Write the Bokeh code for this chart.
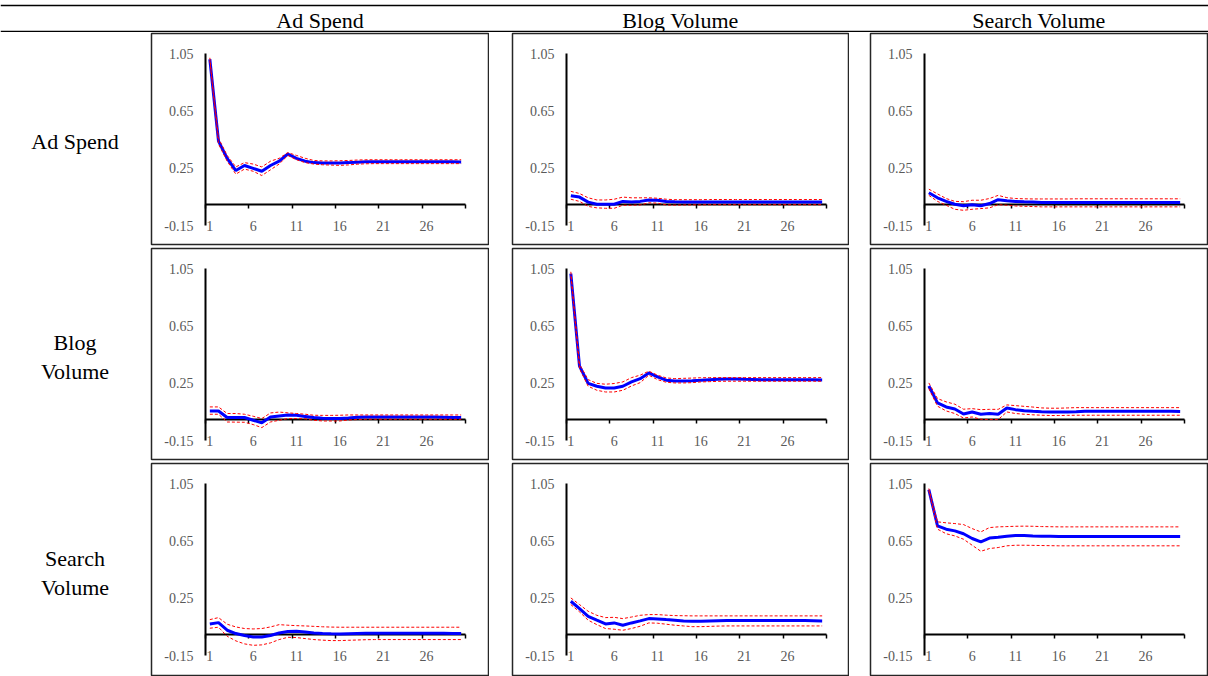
from bokeh.plotting import figure
from bokeh.models import (ColumnDataSource, LinearAxis, FixedTicker,
                          NumeralTickFormatter, Range1d, Span)
from bokeh.layouts import column, row
from bokeh.embed import file_html
from bokeh.resources import INLINE
from bokeh.core.properties import value

# ---------------- data ----------------
VARIABLES = ["Ad Spend", "Blog Volume", "Search Volume"]
ROW_LABELS = ["Ad Spend", "Blog\nVolume", "Search\nVolume"]
PERIODS = [1, 2, 3, 4, 5, 6, 7, 8, 9, 10,
           11, 12, 13, 14, 15, 16, 17, 18, 19, 20,
           21, 22, 23, 24, 25, 26, 27, 28, 29, 30]
Y_TICKS = [-0.15, 0.25, 0.65, 1.05]
X_TICKS = [1, 6, 11, 16, 21, 26]
X_TICK_MARKS = [0.5, 5.5, 10.5, 15.5, 20.5, 25.5, 30.5]

ad_ad_mean = [1.010, 0.440, 0.320, 0.235, 0.270, 0.250, 0.230, 0.270, 0.300, 0.350,
              0.320, 0.300, 0.290, 0.288, 0.288, 0.288, 0.290, 0.293, 0.296, 0.296,
              0.296, 0.296, 0.296, 0.296, 0.296, 0.296, 0.296, 0.296, 0.296, 0.295]
ad_ad_lo = [1.000, 0.420, 0.300, 0.210, 0.245, 0.230, 0.200, 0.240, 0.280, 0.340,
            0.310, 0.290, 0.280, 0.275, 0.273, 0.271, 0.274, 0.279, 0.282, 0.283,
            0.283, 0.283, 0.283, 0.283, 0.283, 0.283, 0.283, 0.283, 0.283, 0.283]
ad_ad_hi = [1.020, 0.460, 0.340, 0.260, 0.290, 0.280, 0.260, 0.300, 0.320, 0.360,
            0.340, 0.320, 0.305, 0.302, 0.302, 0.303, 0.305, 0.308, 0.310, 0.310,
            0.310, 0.310, 0.310, 0.310, 0.310, 0.310, 0.310, 0.310, 0.310, 0.310]

ad_blog_mean = [0.060, 0.050, 0.015, 0.000, 0.000, 0.000, 0.020, 0.015, 0.020, 0.030,
                0.028, 0.020, 0.017, 0.015, 0.015, 0.015, 0.016, 0.016, 0.016, 0.016,
                0.016, 0.016, 0.016, 0.016, 0.016, 0.016, 0.016, 0.016, 0.016, 0.016]
ad_blog_lo = [0.035, 0.020, -0.015, -0.025, -0.028, -0.028, -0.007, -0.007, -0.005, 0.010,
              0.008, -0.005, -0.006, -0.005, -0.004, -0.004, -0.003, -0.003, -0.003, -0.003,
              -0.003, -0.003, -0.003, -0.003, -0.003, -0.003, -0.003, -0.003, -0.003, -0.003]
ad_blog_hi = [0.090, 0.075, 0.045, 0.030, 0.030, 0.035, 0.050, 0.045, 0.045, 0.045,
              0.042, 0.035, 0.032, 0.032, 0.032, 0.032, 0.033, 0.033, 0.033, 0.033,
              0.033, 0.033, 0.033, 0.033, 0.033, 0.033, 0.033, 0.033, 0.033, 0.033]

ad_search_mean = [0.080, 0.045, 0.020, 0.000, -0.010, -0.003, -0.010, 0.005, 0.032, 0.025,
                  0.020, 0.017, 0.015, 0.013, 0.012, 0.012, 0.012, 0.012, 0.012, 0.012,
                  0.012, 0.012, 0.012, 0.012, 0.012, 0.012, 0.012, 0.012, 0.012, 0.012]
ad_search_lo = [0.062, 0.020, -0.007, -0.035, -0.042, -0.035, -0.030, -0.025, -0.003, -0.007,
                -0.012, -0.014, -0.016, -0.018, -0.018, -0.018, -0.018, -0.018, -0.018, -0.018,
                -0.018, -0.018, -0.018, -0.018, -0.018, -0.018, -0.018, -0.018, -0.018, -0.018]
ad_search_hi = [0.105, 0.072, 0.040, 0.020, 0.018, 0.028, 0.028, 0.040, 0.062, 0.046,
                0.040, 0.038, 0.037, 0.037, 0.037, 0.037, 0.037, 0.038, 0.038, 0.038,
                0.038, 0.038, 0.038, 0.038, 0.038, 0.038, 0.038, 0.038, 0.038, 0.038]

blog_ad_mean = [0.058, 0.058, 0.012, 0.012, 0.012, -0.007, -0.025, 0.016, 0.023, 0.030,
                0.028, 0.020, 0.012, 0.007, 0.005, 0.005, 0.009, 0.014, 0.016, 0.016,
                0.016, 0.016, 0.016, 0.016, 0.016, 0.016, 0.015, 0.014, 0.013, 0.012]
blog_ad_lo = [0.035, 0.035, -0.019, -0.020, -0.021, -0.037, -0.058, -0.019, -0.007, 0.005,
              0.005, 0.003, -0.007, -0.012, -0.012, -0.012, -0.005, -0.002, 0.000, 0.000,
              0.000, 0.000, 0.000, 0.000, 0.000, 0.000, 0.000, 0.000, 0.000, 0.000]
blog_ad_hi = [0.086, 0.086, 0.040, 0.040, 0.035, 0.021, 0.005, 0.044, 0.050, 0.045,
              0.040, 0.035, 0.028, 0.027, 0.027, 0.028, 0.030, 0.030, 0.030, 0.030,
              0.030, 0.030, 0.030, 0.030, 0.030, 0.030, 0.030, 0.030, 0.030, 0.030]

blog_blog_mean = [1.015, 0.370, 0.250, 0.230, 0.218, 0.218, 0.230, 0.260, 0.283, 0.323,
                  0.295, 0.272, 0.267, 0.267, 0.269, 0.272, 0.276, 0.279, 0.281, 0.280,
                  0.278, 0.277, 0.276, 0.276, 0.276, 0.276, 0.276, 0.276, 0.275, 0.274]
blog_blog_lo = [1.000, 0.353, 0.230, 0.202, 0.190, 0.190, 0.202, 0.232, 0.255, 0.307,
                0.276, 0.258, 0.253, 0.253, 0.255, 0.260, 0.262, 0.264, 0.265, 0.265,
                0.265, 0.265, 0.265, 0.265, 0.265, 0.265, 0.265, 0.265, 0.265, 0.265]
blog_blog_hi = [1.027, 0.383, 0.276, 0.250, 0.244, 0.249, 0.260, 0.290, 0.307, 0.335,
                0.307, 0.288, 0.283, 0.285, 0.287, 0.289, 0.290, 0.290, 0.290, 0.290,
                0.290, 0.290, 0.290, 0.290, 0.290, 0.290, 0.290, 0.290, 0.290, 0.290]

blog_search_mean = [0.232, 0.114, 0.086, 0.072, 0.037, 0.051, 0.035, 0.040, 0.035, 0.079,
                    0.067, 0.060, 0.056, 0.053, 0.051, 0.051, 0.051, 0.053, 0.056, 0.056,
                    0.056, 0.056, 0.056, 0.056, 0.056, 0.056, 0.056, 0.056, 0.055, 0.054]
blog_search_lo = [0.214, 0.091, 0.058, 0.040, 0.009, 0.016, 0.000, -0.002, -0.002, 0.051,
                  0.040, 0.035, 0.031, 0.028, 0.026, 0.026, 0.027, 0.028, 0.028, 0.028,
                  0.028, 0.028, 0.028, 0.028, 0.028, 0.028, 0.028, 0.028, 0.028, 0.028]
blog_search_hi = [0.253, 0.144, 0.121, 0.105, 0.070, 0.074, 0.067, 0.069, 0.069, 0.100,
                  0.095, 0.090, 0.085, 0.079, 0.077, 0.077, 0.079, 0.081, 0.081, 0.081,
                  0.081, 0.081, 0.081, 0.081, 0.081, 0.081, 0.081, 0.081, 0.081, 0.081]

search_ad_mean = [0.072, 0.081, 0.028, 0.005, -0.009, -0.019, -0.019, -0.009, 0.009, 0.019,
                  0.021, 0.016, 0.009, 0.005, 0.003, 0.002, 0.004, 0.006, 0.007, 0.007,
                  0.007, 0.007, 0.007, 0.007, 0.007, 0.007, 0.007, 0.007, 0.006, 0.005]
search_ad_lo = [0.042, 0.049, -0.014, -0.046, -0.067, -0.077, -0.074, -0.060, -0.037, -0.021,
                -0.023, -0.030, -0.037, -0.041, -0.044, -0.044, -0.042, -0.040, -0.038, -0.037,
                -0.037, -0.037, -0.037, -0.037, -0.037, -0.037, -0.037, -0.037, -0.037, -0.037]
search_ad_hi = [0.102, 0.116, 0.070, 0.051, 0.040, 0.037, 0.040, 0.051, 0.067, 0.063,
                0.060, 0.058, 0.055, 0.052, 0.050, 0.049, 0.049, 0.049, 0.049, 0.049,
                0.049, 0.049, 0.049, 0.049, 0.049, 0.049, 0.049, 0.049, 0.049, 0.049]

search_blog_mean = [0.230, 0.179, 0.125, 0.098, 0.072, 0.079, 0.063, 0.079, 0.093, 0.109,
                    0.107, 0.102, 0.098, 0.093, 0.091, 0.091, 0.093, 0.094, 0.095, 0.095,
                    0.095, 0.095, 0.095, 0.095, 0.095, 0.095, 0.095, 0.095, 0.094, 0.093]
search_blog_lo = [0.207, 0.156, 0.098, 0.067, 0.040, 0.035, 0.028, 0.040, 0.056, 0.079,
                  0.077, 0.070, 0.063, 0.058, 0.053, 0.053, 0.055, 0.057, 0.058, 0.058,
                  0.058, 0.058, 0.058, 0.058, 0.058, 0.058, 0.058, 0.058, 0.058, 0.058]
search_blog_hi = [0.253, 0.207, 0.160, 0.132, 0.116, 0.118, 0.109, 0.120, 0.132, 0.137,
                  0.137, 0.133, 0.130, 0.129, 0.128, 0.128, 0.128, 0.128, 0.128, 0.128,
                  0.128, 0.128, 0.128, 0.128, 0.128, 0.128, 0.128, 0.128, 0.128, 0.128]

search_search_mean = [1.008, 0.755, 0.732, 0.720, 0.700, 0.667, 0.644, 0.670, 0.676, 0.683,
                      0.688, 0.688, 0.685, 0.683, 0.682, 0.681, 0.681, 0.681, 0.681, 0.681,
                      0.681, 0.681, 0.681, 0.681, 0.681, 0.681, 0.681, 0.681, 0.681, 0.681]
search_search_lo = [1.000, 0.732, 0.700, 0.685, 0.662, 0.620, 0.578, 0.597, 0.604, 0.616,
                    0.620, 0.620, 0.619, 0.618, 0.617, 0.616, 0.616, 0.616, 0.616, 0.616,
                    0.616, 0.616, 0.616, 0.616, 0.616, 0.616, 0.616, 0.616, 0.616, 0.616]
search_search_hi = [1.015, 0.783, 0.776, 0.771, 0.764, 0.736, 0.713, 0.743, 0.748, 0.750,
                    0.752, 0.753, 0.752, 0.750, 0.749, 0.748, 0.748, 0.748, 0.748, 0.748,
                    0.748, 0.748, 0.748, 0.748, 0.748, 0.748, 0.748, 0.748, 0.748, 0.748]

# (row, column) -> (mean, lower, upper)
GRID = [
    [(ad_ad_mean, ad_ad_lo, ad_ad_hi),
     (ad_blog_mean, ad_blog_lo, ad_blog_hi),
     (ad_search_mean, ad_search_lo, ad_search_hi)],
    [(blog_ad_mean, blog_ad_lo, blog_ad_hi),
     (blog_blog_mean, blog_blog_lo, blog_blog_hi),
     (blog_search_mean, blog_search_lo, blog_search_hi)],
    [(search_ad_mean, search_ad_lo, search_ad_hi),
     (search_blog_mean, search_blog_lo, search_blog_hi),
     (search_search_mean, search_search_lo, search_search_hi)],
]

# ---------------- layout / style ----------------
FONT = "Liberation Serif"
TOTAL_W = 1208
HEADER_H = 32
LABEL_W = 150
GAP_LEFT = [0, 22, 20]
BOX_W = [339, 338, 339]
BOX_H = [213, 213, 214]
ROW_GAP = [2, 2, 0]
AXIS_X = 55            # px from box left to the vertical axis
TOP_Y = 21             # px from box top to the 1.05 level
PX_X = 260.0 / 30.0    # px per period
PX_Y = 172.3 / 1.2     # px per unit of response


def make_panel(r, c):
    mean, lo, hi = GRID[r][c]
    W, H = BOX_W[c], BOX_H[r]
    gl, gb = GAP_LEFT[c], ROW_GAP[r]
    frame_w, frame_h = W - 2, H - 2
    x0 = 0.5 - (AXIS_X - 1) / PX_X
    x1 = x0 + frame_w / PX_X
    y1 = 1.05 + (TOP_Y - 1) / PX_Y
    y0 = y1 - frame_h / PX_Y
    p = figure(width=gl + W, height=H + gb,
               x_range=Range1d(x0, x1), y_range=Range1d(y0, y1),
               x_axis_type=None, y_axis_type=None,
               toolbar_location=None, output_backend="svg",
               min_border_left=gl + 1, min_border_right=1,
               min_border_top=1, min_border_bottom=gb + 1)
    p.title.visible = False
    p.outline_line_color = "#262626"
    p.outline_line_width = 1.5
    p.background_fill_color = "white"
    p.border_fill_color = "white"

    yax = LinearAxis(ticker=FixedTicker(ticks=Y_TICKS),
                     formatter=NumeralTickFormatter(format="0.00"),
                     fixed_location=0.5, bounds=(-0.15, 1.05))
    yax.axis_line_color = "black"
    yax.axis_line_width = 2
    yax.major_tick_line_color = None
    yax.minor_tick_line_color = None
    yax.major_tick_out = 0
    yax.major_tick_in = 0
    yax.major_label_standoff = 12
    yax.major_label_text_font = FONT
    yax.major_label_text_font_size = "14px"
    yax.major_label_text_color = "#595959"
    yax.level = "underlay"
    p.add_layout(yax, "left")

    xax = LinearAxis(ticker=FixedTicker(ticks=X_TICKS, minor_ticks=X_TICK_MARKS),
                     fixed_location=0, bounds=(0.5, 30.5))
    xax.axis_line_color = "black"
    xax.axis_line_width = 2
    xax.major_tick_line_color = None
    xax.major_tick_out = 0
    xax.major_tick_in = 0
    xax.minor_tick_line_color = "black"
    xax.minor_tick_line_width = 1.5
    xax.minor_tick_out = 4
    xax.minor_tick_in = 0
    xax.major_label_standoff = 13
    xax.major_label_text_font = FONT
    xax.major_label_text_font_size = "14px"
    xax.major_label_text_color = "#595959"
    xax.level = "underlay"
    p.add_layout(xax, "below")

    src = ColumnDataSource(dict(period=PERIODS, mean=mean, lo=lo, hi=hi))
    p.line("period", "mean", source=src, line_color="#0000FF", line_width=3)
    p.line("period", "hi", source=src, line_color="#FF0000", line_width=1,
           line_dash="3 2")
    p.line("period", "lo", source=src, line_color="#FF0000", line_width=1,
           line_dash="3 2")
    return p


def make_row_label(r):
    h = BOX_H[r] + ROW_GAP[r]
    p = figure(width=LABEL_W, height=h, x_range=Range1d(0, LABEL_W),
               y_range=Range1d(h, 0), x_axis_type=None, y_axis_type=None,
               toolbar_location=None, output_backend="svg", min_border=0)
    p.title.visible = False
    p.outline_line_color = None
    src = ColumnDataSource(dict(x=[74.5], y=[110.5], t=[ROW_LABELS[r]]))
    p.text("x", "y", text="t", source=src, text_align="center",
           text_baseline="middle", text_font=value(FONT),
           text_font_size="22px", text_color="black", text_line_height=1.15)
    return p


def make_header():
    p = figure(width=TOTAL_W, height=HEADER_H, x_range=Range1d(0, TOTAL_W),
               y_range=Range1d(HEADER_H, 0), x_axis_type=None, y_axis_type=None,
               toolbar_location=None, output_backend="svg", min_border=0)
    p.title.visible = False
    p.outline_line_color = None
    p.add_layout(Span(location=5, dimension="width", line_color="black",
                      line_width=1.5))
    p.add_layout(Span(location=31, dimension="width",
                      line_color="black", line_width=1.5))
    centers = []
    left = LABEL_W
    for c in range(3):
        left += GAP_LEFT[c]
        centers.append(left + BOX_W[c] / 2.0)
        left += BOX_W[c]
    src = ColumnDataSource(dict(x=centers, y=[19.5, 19.5, 19.5], t=VARIABLES))
    p.text("x", "y", text="t", source=src, text_align="center",
           text_baseline="middle", text_font=value(FONT),
           text_font_size="22px", text_color="black")
    return p


rows = [make_header()]
for r in range(3):
    rows.append(row([make_row_label(r)] + [make_panel(r, c) for c in range(3)],
                    spacing=0))
layout = column(rows, spacing=0)

open("out.html", "w").write(file_html(layout, INLINE, title="Impulse responses"))
